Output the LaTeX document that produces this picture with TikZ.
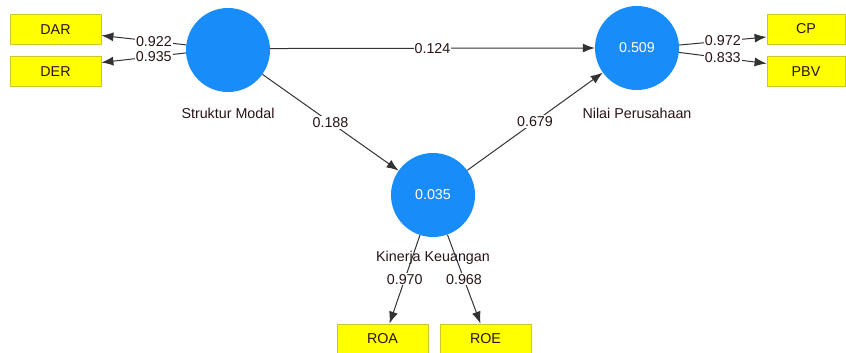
\documentclass[tikz,border=0pt]{standalone}
\usepackage{fontspec}
\setmainfont{Liberation Sans}
\usetikzlibrary{arrows.meta}
\definecolor{lvblue}{RGB}{24,141,250}
\definecolor{mvyellow}{RGB}{255,255,0}
\definecolor{mvborder}{RGB}{200,200,40}
\definecolor{linkgray}{RGB}{50,50,50}
\definecolor{labeltext}{RGB}{40,20,20}

\begin{document}
\begin{tikzpicture}
                    [x=1pt,y=-1pt,
                     font=\fontsize{14.3}{16}\selectfont,text=labeltext,
                     lv/.style={circle,fill=lvblue,minimum size=84pt,inner sep=0pt,text=white},
                     mv/.style={rectangle,fill=mvyellow,draw=mvborder,line width=0.8pt,minimum height=30pt,inner sep=0pt},
                     link/.style={draw=linkgray,line width=1pt,-{Latex[length=12pt,width=9pt]}},
                     coef/.style={fill=white,inner sep=1pt}]

                    \useasboundingbox (0,0) rectangle (846,353);

                    % Variabel laten
                    \node[lv] (sm) at (228,50) {}; \node (smlabel) at (228,113) {Struktur Modal};
                    \node[lv] (np) at (637,48) {0.509}; \node (nplabel) at (637,113) {Nilai Perusahaan};
                    \node[lv] (kk) at (433,195) {0.035}; \node (kklabel) at (433,258) {Kinerja Keuangan};

                    % Indikator
                    \node[mv,minimum width=91pt] (dar) at (55.5,29.5) {DAR};
                    \node[mv,minimum width=91pt] (der) at (55.5,71.5) {DER};
                    \node[mv,minimum width=78pt] (cp) at (806,29) {CP};
                    \node[mv,minimum width=78pt] (pbv) at (806,71.5) {PBV};
                    \node[mv,minimum width=91pt] (roa) at (382.5,339) {ROA};
                    \node[mv,minimum width=91pt] (roe) at (485.5,339) {ROE};

                    % Outer loadings
                    \draw[link] (sm.173) -- node[coef,pos=0.38] {0.922} ([yshift=-6pt]dar.east);
                    \draw[link] (sm.184) -- node[coef,pos=0.38] {0.935} ([yshift=9pt]der.east);
                    \draw[link] (np.4) -- node[coef] {0.972} ([yshift=-8pt]cp.west);
                    \draw[link] (np.-6) -- node[coef] {0.833} ([yshift=8pt]pbv.west);
                    \draw[link] (kk.-108) -- node[coef] {0.970} ([xshift=7pt]roa.north);
                    \draw[link] (kk.-70) -- node[coef] {0.968} ([xshift=-5pt]roe.north);

                    % Path coefficients
                    \draw[link] (sm.2) -- node[coef] {0.124} (np.west);
                    \draw[link] (sm) -- node[coef] {0.188} (kk);
                    \draw[link] (kk) -- node[coef] {0.679} (np);
                \end{tikzpicture}
\end{document}
